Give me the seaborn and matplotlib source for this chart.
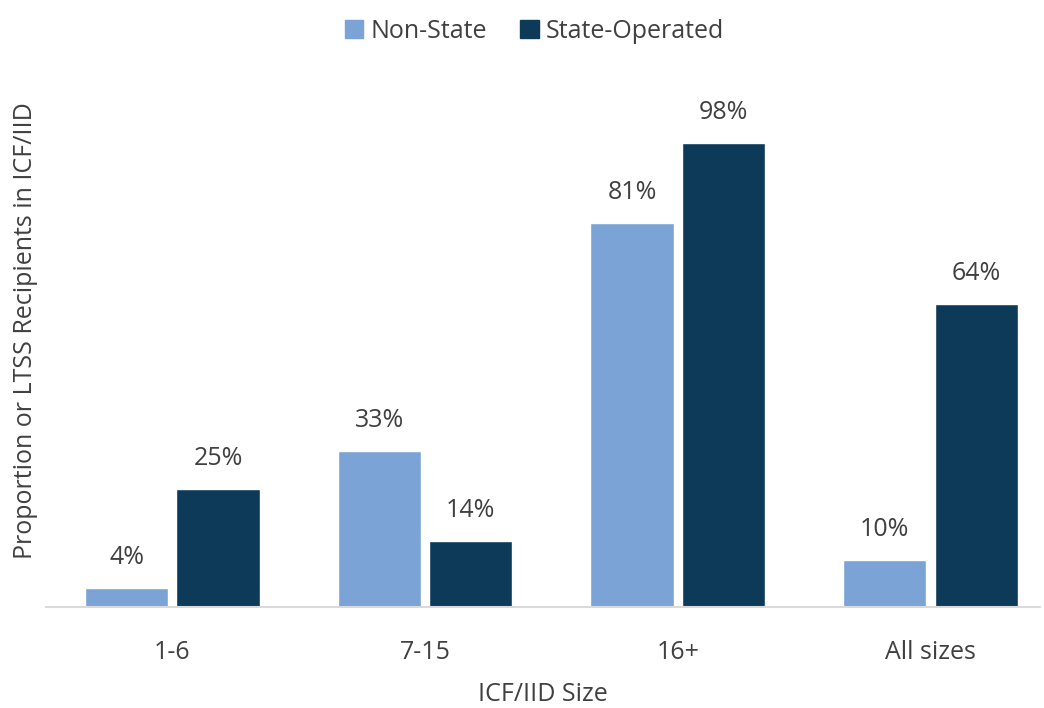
import numpy as np
import pandas as pd
import matplotlib.pyplot as plt
import seaborn as sns
from matplotlib.patches import Patch

# data
sizes = ['1-6', '7-15', '16+', 'All sizes']
non_state = [0.04, 0.33, 0.81, 0.10]
state_operated = [0.25, 0.14, 0.98, 0.64]
groups = ['Non-State', 'State-Operated']
colors = ['#7BA3D5', '#0E3A5A']

df = pd.DataFrame({
    'Size': sizes * 2,
    'Type': [groups[0]] * 4 + [groups[1]] * 4,
    'Value': non_state + state_operated,
})

sns.set_style('white')
plt.rcParams['font.family'] = ['Open Sans', 'DejaVu Sans']
txt = '#404040'
fs = 18

fig = plt.figure(figsize=(10.44, 7.08), dpi=100)
ax = fig.add_axes([46 / 1044, 101 / 708, 994 / 1044, 473.5 / 708])
sns.barplot(data=df, x='Size', y='Value', hue='Type', order=sizes, hue_order=groups,
            palette=colors, width=0.724, gap=0.09, saturation=1, ax=ax, legend=False)

for c in ax.containers:
    ax.bar_label(c, labels=[f'{v:.0%}' for v in c.datavalues], padding=13,
                 fontsize=fs, color=txt, clip_on=False)

ax.set_xlim(-0.5, 3.433)
ax.set_ylim(0, 1.0)
ax.set_yticks([])
ax.tick_params(axis='x', labelsize=fs, labelcolor=txt, length=0, pad=24)
ax.set_xlabel('ICF/IID Size', fontsize=fs, color=txt, labelpad=12)
ax.set_ylabel('Proportion or LTSS Recipients in ICF/IID', fontsize=fs, color=txt)
ax.yaxis.set_label_coords(-0.008, 0.583)
for s in ['top', 'right', 'left']:
    ax.spines[s].set_visible(False)
ax.spines['bottom'].set_color('#D9D9D9')
ax.spines['bottom'].set_linewidth(1.5)

handles = [Patch(color=colors[0]), Patch(color=colors[1])]
fig.legend(handles, groups, loc='upper center', bbox_to_anchor=(0.512, 1.005), ncol=2,
           frameon=False, fontsize=fs, labelcolor=txt, handlelength=0.75, handleheight=0.75,
           handletextpad=0.3, columnspacing=1.3)

fig.savefig('out.png', dpi=100)
